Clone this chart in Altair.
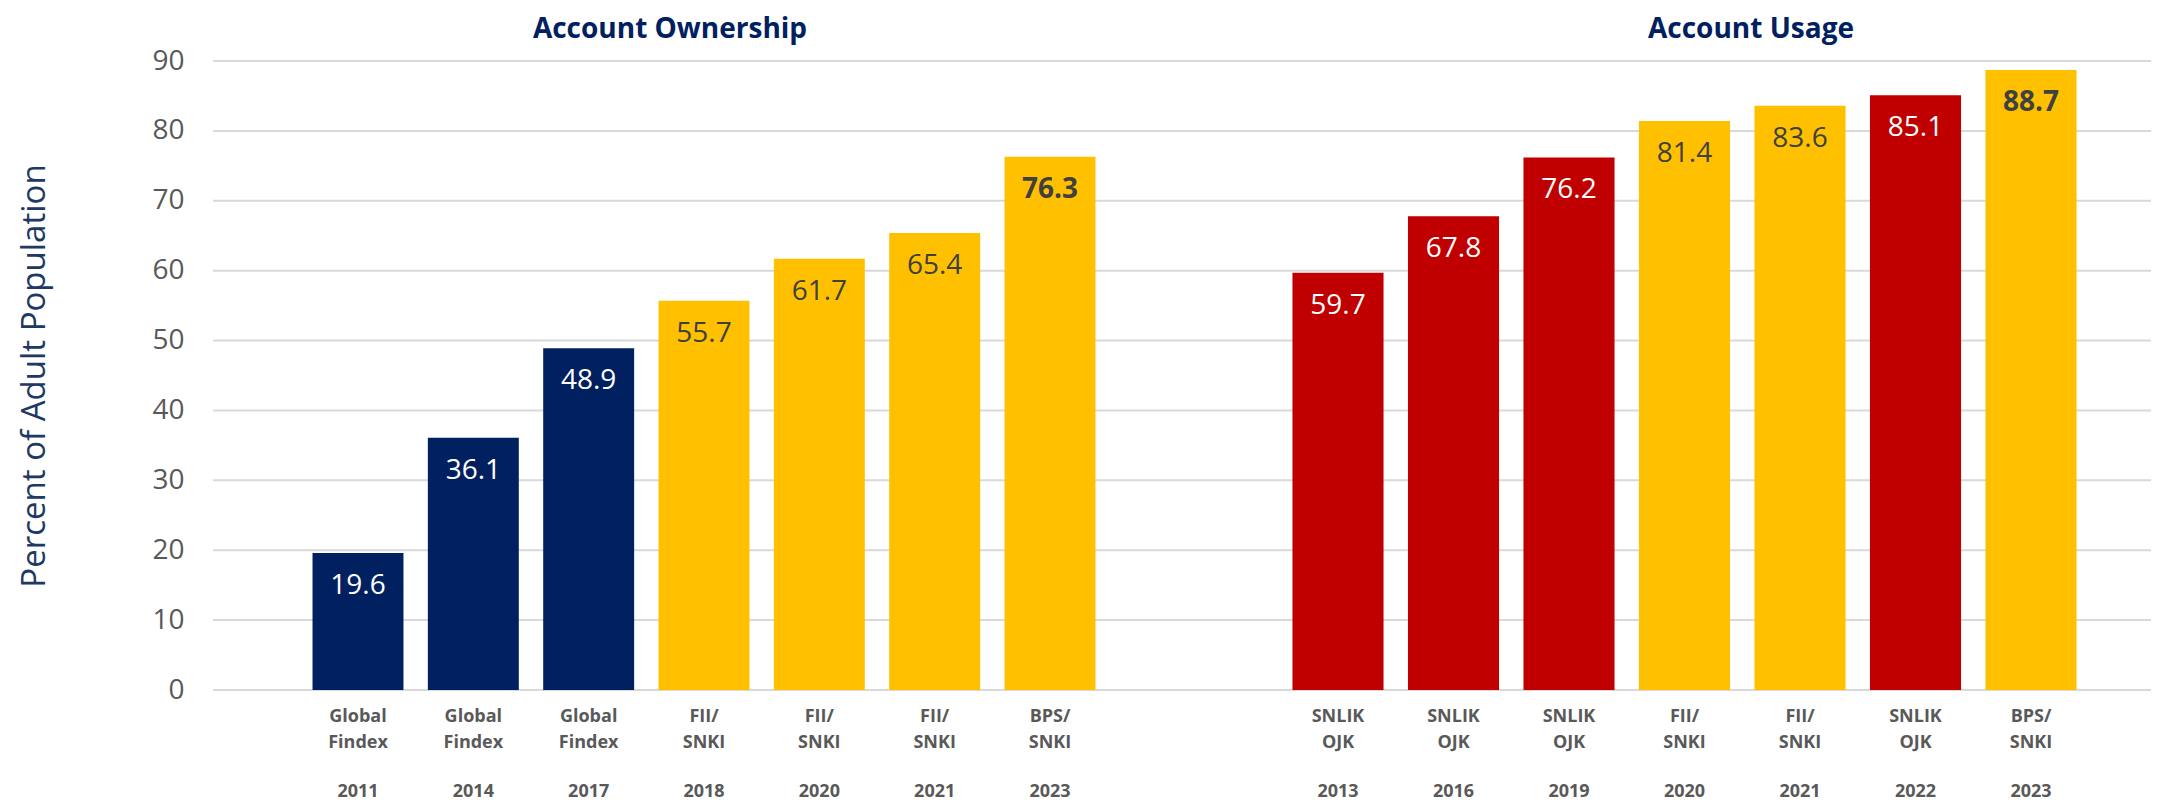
import altair as alt
import pandas as pd

# ---------------- data ----------------
own_source = ["Global Findex", "Global Findex", "Global Findex", "FII/ SNKI", "FII/ SNKI", "FII/ SNKI", "BPS/ SNKI"]
own_year = ["2011", "2014", "2017", "2018", "2020", "2021", "2023"]
own_value = [19.6, 36.1, 48.9, 55.7, 61.7, 65.4, 76.3]

use_source = ["SNLIK OJK", "SNLIK OJK", "SNLIK OJK", "FII/ SNKI", "FII/ SNKI", "SNLIK OJK", "BPS/ SNKI"]
use_year = ["2013", "2016", "2019", "2020", "2021", "2022", "2023"]
use_value = [59.7, 67.8, 76.2, 81.4, 83.6, 85.1, 88.7]

group_titles = ["Account Ownership", "Account Usage"]
y_title = "Percent of Adult Population"
y_ticks = [0, 10, 20, 30, 40, 50, 60, 70, 80, 90]

# ---------------- styles ----------------
NAVY = "#002060"
YELLOW = "#FFC000"
RED = "#C00000"
GRAY = "#595959"
FONT = "Open Sans"


def make_df(sources, years, values):
    df = pd.DataFrame({"source": sources, "year": years, "value": values})
    df["key"] = ["|".join(s.split(" ") + [y]) for s, y in zip(sources, years)]
    df["label"] = [f"{v:.1f}" for v in values]
    return df


own_df = make_df(own_source, own_year, own_value)
use_df = make_df(use_source, use_year, use_value)

color_scale = alt.Scale(
    domain=["Global Findex", "FII/ SNKI", "BPS/ SNKI", "SNLIK OJK"],
    range=[NAVY, YELLOW, YELLOW, RED],
)
y_scale = alt.Scale(domain=[0, 90], nice=False, zero=True)


def x_axis():
    return alt.Axis(
        orient="bottom", title=None, labelExpr="slice(split(datum.label, '|'), 0, 2)",
        labelAngle=0, labelFont=FONT, labelFontWeight="bold", labelFontSize=18,
        labelColor=GRAY, labelLineHeight=26, labelPadding=17, labelBaseline="top",
        domain=False, ticks=False, tickSize=0, grid=False, labelOverlap=False,
    )


def y_axis():
    return alt.Axis(
        values=y_ticks, format="d", title=y_title, titleFont=FONT, titleFontSize=33,
        titleFontWeight="normal", titleColor="#203864", titleX=-169, titleY=314.5,
        titleAngle=270, titleAlign="center", titleBaseline="alphabetic",
        labelFont=FONT, labelFontSize=28, labelColor=GRAY, labelPadding=29,
        domain=False, ticks=False, tickSize=0, grid=False,
    )


y_enc = alt.Y("value:Q", scale=y_scale, axis=y_axis())


def group(df, rng):
    x_enc = alt.X("key:N", sort=None,
                  scale=alt.Scale(range=rng, paddingInner=0.2114, paddingOuter=0.1057),
                  axis=x_axis())
    base = alt.Chart(df)
    bars = base.mark_bar().encode(
        x=x_enc, y=y_enc,
        color=alt.Color("source:N", scale=color_scale, legend=None),
    )
    txt_color = alt.condition("indexof(datum.source, 'SNKI') >= 0",
                              alt.value("#404040"), alt.value("#FFFFFF"))
    labels = base.transform_filter("datum.year != '2023'").mark_text(
        dy=33, baseline="middle", fontSize=28, font=FONT
    ).encode(x=x_enc, y=y_enc, text="label:N", color=txt_color)
    labels_bold = base.transform_filter("datum.year == '2023'").mark_text(
        dy=33, baseline="middle", fontSize=28, font=FONT, fontWeight="bold"
    ).encode(x=x_enc, y=y_enc, text="label:N", color=txt_color)
    years = base.mark_text(
        baseline="middle", fontSize=18, font=FONT, fontWeight="bold", color=GRAY
    ).encode(x=x_enc, y=alt.value(731), text="year:N")
    return alt.layer(bars, labels, labels_bold, years)


left = group(own_df, [87.33, 894.67])
right = group(use_df, [1067.25, 1875.75])

grid = alt.Chart(pd.DataFrame({"value": y_ticks})).mark_rule(
    color="#D9D9D9", strokeWidth=2
).encode(
    y=y_enc,
    x=alt.value(0), x2=alt.value("width"),
)


def title_layer(text, xpos):
    return alt.Chart(pd.DataFrame({"t": [text]})).mark_text(
        font=FONT, fontSize=28, fontWeight="bold", color=NAVY,
        align="center", baseline="alphabetic",
    ).encode(text="t:N", x=alt.value(xpos), y=alt.value(-23))


chart = alt.layer(
    grid, left, right,
    title_layer(group_titles[0], 457),
    title_layer(group_titles[1], 1538),
).resolve_scale(x="independent").resolve_axis(x="independent").properties(
    width=1938, height=629,
    padding={"left": 205, "top": 53, "right": 10, "bottom": 111},
    autosize=alt.AutoSizeParams(type="none"),
    view=alt.ViewBackground(strokeWidth=0, stroke="transparent"),
).configure_view(strokeWidth=0, stroke="transparent").configure_axis(
    domain=False, ticks=False, grid=False
).configure(font=FONT)

chart.save("out.html", embed_options={"renderer": "svg", "actions": False})
